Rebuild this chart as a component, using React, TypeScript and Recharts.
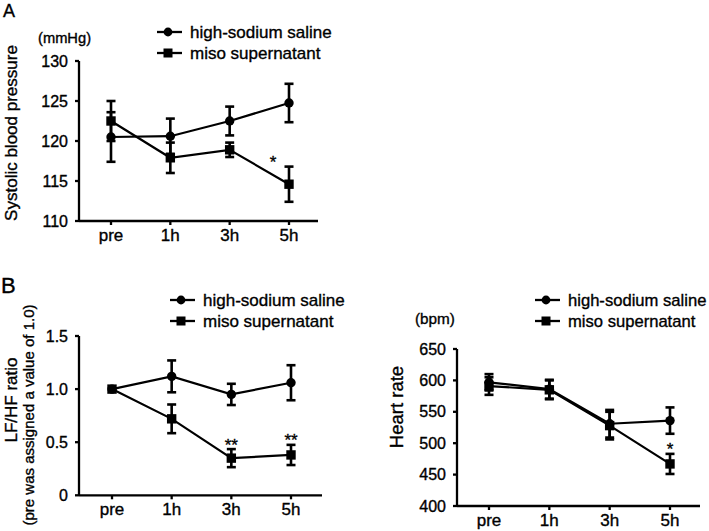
import React from 'react';
import { LineChart, Line, XAxis, YAxis, ErrorBar, Legend, ReferenceDot } from 'recharts';

const FONT = '"Liberation Sans", Arial, Helvetica, sans-serif';
const TEXT_STROKE = 0.35;

// ---------- data ----------
const categories = ['pre', '1h', '3h', '5h'];
const seriesNames = ['high-sodium saline', 'miso supernatant'];

// Panel A: systolic blood pressure (mmHg)
const sbpSaline = [120.5, 120.6, 122.5, 124.75];
const sbpSalineErr = [3.1, 2.2, 1.8, 2.4];
const sbpMiso = [122.5, 117.9, 118.9, 114.6];
const sbpMisoErr = [2.5, 1.9, 0.9, 2.2];
const sbpSig = ['', '', '', '*'];
const sbpTicks = [110, 115, 120, 125, 130];

// Panel B left: LF/HF ratio
const lfhfSaline = [1.0, 1.12, 0.95, 1.06];
const lfhfSalineErr = [0, 0.15, 0.1, 0.165];
const lfhfMiso = [1.0, 0.72, 0.35, 0.38];
const lfhfMisoErr = [0, 0.135, 0.085, 0.095];
const lfhfSig = ['', '', '**', '**'];
const lfhfTicks = [0, 0.5, 1.0, 1.5];
const lfhfTickLabels = ['0', '0.5', '1.0', '1.5'];

// Panel B right: heart rate (bpm)
const hrSaline = [597, 586, 531, 536];
const hrSalineErr = [13, 15, 22, 21];
const hrMiso = [591, 585, 528, 467];
const hrMisoErr = [14, 15, 22, 16];
const hrSig = ['', '', '', '*'];
const hrTicks = [400, 450, 500, 550, 600, 650];

const buildRows = (s: number[], se: number[], m: number[], me: number[]) =>
  categories.map((c, i) => ({ cat: c, saline: s[i], salineErr: se[i], miso: m[i], misoErr: me[i] }));

// ---------- markers ----------
const CircleDot = (props: any) => {
  const { cx, cy, index } = props;
  if (cx == null || cy == null) return <g key={`c-${index}`} />;
  return <circle key={`c-${index}`} cx={cx} cy={cy} r={4.7} fill="#000" stroke="none" />;
};
const SquareDot = (props: any) => {
  const { cx, cy, index } = props;
  if (cx == null || cy == null) return <g key={`s-${index}`} />;
  return <rect key={`s-${index}`} x={cx - 4.7} y={cy - 4.7} width={9.4} height={9.4} fill="#000" stroke="none" />;
};

const LegendBox = ({ fontSize }: { fontSize: number }) => (
  <div
    style={{
      fontFamily: FONT,
      fontSize,
      color: '#000',
      lineHeight: '21px',
      whiteSpace: 'nowrap',
      WebkitTextStroke: `${TEXT_STROKE}px #000`,
    }}
  >
    {seriesNames.map((name, i) => (
      <div key={name} style={{ display: 'flex', alignItems: 'center', height: 21 }}>
        <svg width={26} height={12} style={{ display: 'block' }}>
          <line x1={0} y1={6} x2={25} y2={6} stroke="#000" strokeWidth={2.3} />
          {i === 0 ? (
            <circle cx={11} cy={6} r={4.4} fill="#000" />
          ) : (
            <rect x={6.5} y={1.5} width={9} height={9} fill="#000" />
          )}
        </svg>
        <span style={{ marginLeft: 7 }}>{name}</span>
      </div>
    ))}
  </div>
);

type PanelProps = {
  left: number;
  top: number;
  width: number;
  height: number;
  margin: { top: number; right: number; bottom: number; left: number };
  yWidth: number;
  domain: [number, number];
  ticks: number[];
  tickFormatter?: (v: number) => string;
  padding: { left: number; right: number };
  rows: any[];
  sig: string[];
  sigVals: number[];
  starDx: number;
  legendPos: { left: number; top: number };
  legendFont: number;
  labels: React.ReactNode;
};

const Panel = (p: PanelProps) => {
  const axisStyle = { stroke: '#000', strokeWidth: 2.3 };
  const tickStyle = { fill: '#000', fontSize: 16, fontFamily: FONT, stroke: '#000', strokeWidth: TEXT_STROKE };
  return (
    <div style={{ position: 'absolute', left: p.left, top: p.top }}>
      <LineChart width={p.width} height={p.height} data={p.rows} margin={p.margin}>
        <XAxis
          dataKey="cat"
          type="category"
          padding={p.padding}
          axisLine={axisStyle}
          tickLine={axisStyle}
          tickSize={4}
          tickMargin={4}
          tick={{ ...tickStyle, fontSize: 17 }}
          height={25}
          interval={0}
        />
        <YAxis
          type="number"
          domain={p.domain}
          ticks={p.ticks}
          interval={0}
          allowDataOverflow
          width={p.yWidth}
          axisLine={axisStyle}
          tickLine={axisStyle}
          tickSize={4}
          tickMargin={7}
          tick={tickStyle}
          tickFormatter={p.tickFormatter}
          label={() => <g>{p.labels}</g>}
        />
        <Legend
          layout="vertical"
          align="center"
          verticalAlign="middle"
          content={() => <LegendBox fontSize={p.legendFont} />}
          wrapperStyle={{ left: p.legendPos.left, top: p.legendPos.top, width: 'auto', height: 'auto' }}
        />
        <Line
          dataKey="saline"
          name={seriesNames[0]}
          stroke="#000"
          strokeWidth={2.2}
          dot={CircleDot}
          activeDot={false}
          isAnimationActive={false}
        >
          <ErrorBar dataKey="salineErr" width={4.5} strokeWidth={2.6} stroke="#000" direction="y" />
        </Line>
        <Line
          dataKey="miso"
          name={seriesNames[1]}
          stroke="#000"
          strokeWidth={2.2}
          dot={SquareDot}
          activeDot={false}
          isAnimationActive={false}
        >
          <ErrorBar dataKey="misoErr" width={4.5} strokeWidth={2.6} stroke="#000" direction="y" />
        </Line>
        {p.sig.map((s, i) =>
          s ? (
            <ReferenceDot
              key={`sig-${i}`}
              x={categories[i]}
              y={p.sigVals[i]}
              r={0}
              fill="none"
              stroke="none"
              label={(lp: any) => {
                const vb = lp.viewBox || {};
                const x = (vb.x ?? 0) + (vb.width ?? 0) / 2;
                const y = (vb.y ?? 0) + (vb.height ?? 0) / 2;
                return (
                  <text
                    x={x + p.starDx}
                    y={y + 1.5}
                    textAnchor="middle"
                    fontSize={17}
                    fontFamily={FONT}
                    fill="#000"
                    stroke="#000"
                    strokeWidth={TEXT_STROKE}
                  >
                    {s}
                  </text>
                );
              }}
            />
          ) : null
        )}
      </LineChart>
    </div>
  );
};

export default function App() {
  const txt = { fontFamily: FONT, fill: '#000', stroke: '#000', strokeWidth: TEXT_STROKE } as const;
  return (
    <div style={{ position: 'absolute', left: 0, top: 0, width: 709, height: 531, background: '#fff', overflow: 'hidden' }}>
      <svg width={709} height={531} style={{ position: 'absolute', left: 0, top: 0 }}>
        <text x={3} y={17} fontSize={18} {...txt}>A</text>
        <text x={1} y={293} fontSize={22} {...txt}>B</text>
      </svg>
      <Panel
        left={0}
        top={0}
        width={330}
        height={250}
        margin={{ top: 61, right: 12, bottom: 4, left: 0 }}
        yWidth={79}
        domain={[110, 130]}
        ticks={sbpTicks}
        padding={{ left: 32, right: 29 }}
        rows={buildRows(sbpSaline, sbpSalineErr, sbpMiso, sbpMisoErr)}
        sig={sbpSig}
        sigVals={sbpMiso.map((v, i) => v + sbpMisoErr[i])}
        starDx={-16}
        legendPos={{ left: 157, top: 21.5 }}
        legendFont={17}
        labels={
          <>
            <text x={38} y={43} fontSize={14.7} {...txt}>(mmHg)</text>
            <text x={17} y={133} fontSize={17} textAnchor="middle" transform="rotate(-90 17 133)" {...txt}>
              Systolic blood pressure
            </text>
          </>
        }
      />
      <Panel
        left={0}
        top={250}
        width={335}
        height={281}
        margin={{ top: 86, right: 13, bottom: 10.7, left: 0 }}
        yWidth={79}
        domain={[0, 1.5]}
        ticks={lfhfTicks}
        tickFormatter={(v: number) => lfhfTickLabels[lfhfTicks.indexOf(v)] ?? String(v)}
        padding={{ left: 33, right: 31 }}
        rows={buildRows(lfhfSaline, lfhfSalineErr, lfhfMiso, lfhfMisoErr)}
        sig={lfhfSig}
        sigVals={lfhfMiso.map((v, i) => v + lfhfMisoErr[i])}
        starDx={0}
        legendPos={{ left: 170, top: 39.5 }}
        legendFont={17}
        labels={
          <>
            <text x={16.5} y={150} fontSize={17} textAnchor="middle" transform="rotate(-90 16.5 150)" {...txt}>
              LF/HF ratio
            </text>
            <text x={34} y={165} fontSize={15} textAnchor="middle" transform="rotate(-90 34 165)" {...txt}>
              (pre was assigned a value of 1.0)
            </text>
          </>
        }
      />
      <Panel
        left={380}
        top={250}
        width={329}
        height={281}
        margin={{ top: 99, right: 9, bottom: 0, left: 0 }}
        yWidth={77}
        domain={[400, 650]}
        ticks={hrTicks}
        padding={{ left: 32, right: 30 }}
        rows={buildRows(hrSaline, hrSalineErr, hrMiso, hrMisoErr)}
        sig={hrSig}
        sigVals={hrMiso.map((v, i) => v + hrMisoErr[i])}
        starDx={0}
        legendPos={{ left: 155, top: 39.5 }}
        legendFont={16.6}
        labels={
          <>
            <text x={35} y={74} fontSize={15.3} {...txt}>(bpm)</text>
            <text x={23} y={157} fontSize={18.5} textAnchor="middle" transform="rotate(-90 23 157)" {...txt}>
              Heart rate
            </text>
          </>
        }
      />
    </div>
  );
}
